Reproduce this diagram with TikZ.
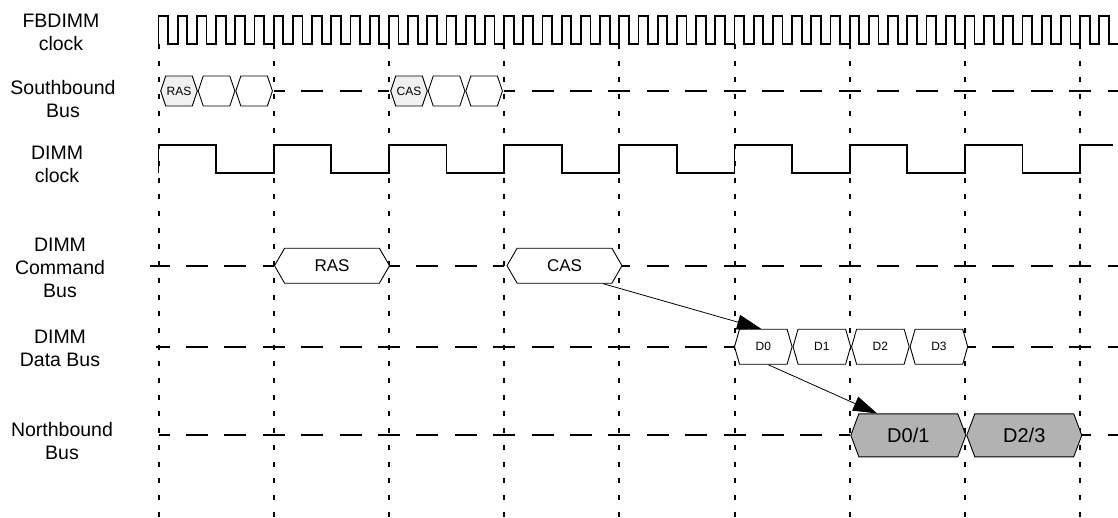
\documentclass[tikz,border=0pt]{standalone}
\usepackage{fontspec}
\setmainfont{Liberation Sans}
\usepackage{tikz}
\usetikzlibrary{arrows.meta,positioning,shapes.symbols}

\begin{document}
\begin{tikzpicture}[x=1pt,y=-1pt]
    \tikzset{grid line/.style={line width=2pt,dash pattern=on 5pt off 11.7pt}}
    \tikzset{bus line/.style={line width=2.2pt,dash pattern=on 22pt off 16.4pt,dash phase=11pt}}
    \tikzset{wave/.style={line width=1.7pt,line join=miter}}
    \tikzset{cell/.style={shape=signal,signal to=west and east,draw,fill=white,line width=0.9pt,inner sep=0pt}}
    \tikzset{sb cell/.style={cell,minimum width=36.6pt,minimum height=30pt,signal pointer angle=143,font=\fontsize{12}{14}\selectfont}}
    \tikzset{cmd cell/.style={cell,minimum width=115pt,minimum height=35pt,signal pointer angle=120,font=\fontsize{17}{19}\selectfont}}
    \tikzset{dat cell/.style={cell,minimum width=57.6pt,minimum height=35pt,signal pointer angle=148,font=\fontsize{12}{14}\selectfont}}
    \tikzset{nb cell/.style={cell,fill=black!30,minimum width=115pt,minimum height=43pt,signal pointer angle=139,font=\fontsize{20}{22}\selectfont}}
    \tikzset{sig label/.style={align=center,font=\fontsize{19.5}{23}\selectfont}}
    \tikzset{cause/.style={-{Triangle[length=24pt,width=15pt]},line width=0.8pt}}
    \useasboundingbox (0,0) rectangle (1118,517);

    \foreach \i in {0,...,8}
      \draw[grid line] (158.5+115.2*\i,44) -- (158.5+115.2*\i,517);

    \draw[bus line] (273.7,91) -- (388.9,91);
    \draw[bus line] (504.1,91) -- (1118,91);
    \draw[bus line,dash phase=2.5pt] (150,265.7) -- (273.7,265.7);
    \draw[bus line] (388.9,265.7) -- (504.1,265.7);
    \draw[bus line] (619.3,265.7) -- (1118,265.7);
    \draw[bus line,dash phase=8.5pt] (156,346.7) -- (734.5,346.7);
    \draw[bus line] (964.9,346.7) -- (1118,346.7);
    \draw[bus line] (158.5,435.3) -- (849.7,435.3);
    \draw[bus line] (1080.1,435.3) -- (1118,435.3);

    \draw[wave] (158.5,44) \foreach \i in {1,...,50} { -- ++(0,-28.3) -- ++(9.6,0) -- ++(0,28.3) -- ++(9.6,0) };
    \draw[wave] (158.5,173) \foreach \i in {1,...,8} { -- ++(0,-28) -- ++(57.6,0) -- ++(0,28) -- ++(57.6,0) } -- ++(0,-28) -- (1113,145);

    \node[sb cell,fill=black!6] (sras) at (179,91) {RAS};
    \node[sb cell,right=0pt of sras] (sras2) {};
    \node[sb cell,right=0pt of sras2] (sras3) {};
    \node[sb cell,fill=black!6] (scas) at (409,91) {CAS};
    \node[sb cell,right=0pt of scas] (scas2) {};
    \node[sb cell,right=0pt of scas2] (scas3) {};

    \node[cmd cell] (cras) at (332,265.7) {RAS};
    \node[cmd cell] (ccas) at (564.5,265.7) {CAS};

    \node[dat cell] (d0) at (763.3,346.7) {D0};
    \node[dat cell,right=0pt of d0] (d1) {D1};
    \node[dat cell,right=0pt of d1] (d2) {D2};
    \node[dat cell,right=0pt of d2] (d3) {D3};

    \node[nb cell] (d01) at (908.3,435.3) {D0/1};
    \node[nb cell,right=0pt of d01] (d23) {D2/3};

    \draw[cause] (ccas.-25) -- (d0.97);
    \draw[cause] (d0.-75) -- (d01.145);

    \node[sig label] (fbclk) at (61,32) {FBDIMM\\clock};
    \node[sig label] (sbus) at (63,99) {Southbound\\Bus};
    \node[sig label] (dclk) at (57,164) {DIMM\\clock};
    \node[sig label] (cmdbus) at (60,268) {DIMM\\Command\\Bus};
    \node[sig label] (databus) at (60,348) {DIMM\\Data Bus};
    \node[sig label] (nbus) at (62,441) {Northbound\\Bus};
\end{tikzpicture}
\end{document}
